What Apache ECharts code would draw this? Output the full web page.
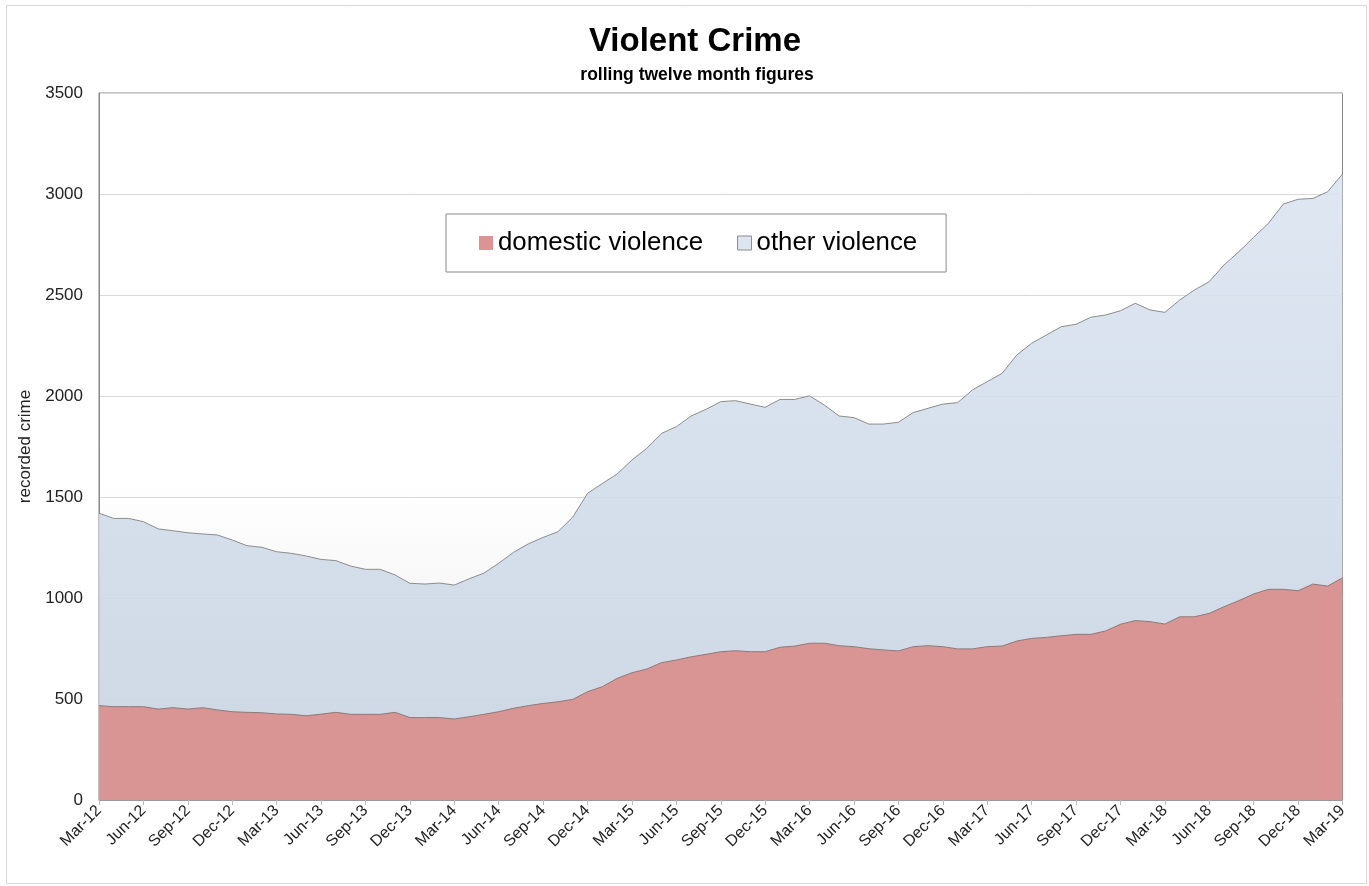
<!DOCTYPE html>
<html>
<head>
<meta charset="utf-8">
<script src="https://cdn.jsdelivr.net/npm/echarts@6/dist/echarts.min.js"></script>
<style>
html,body{margin:0;padding:0;background:#fff;}
#chart{width:1369px;height:886px;}
</style>
</head>
<body>
<div id="chart"></div>
<script>
const categories = [
'Mar-12','Apr-12','May-12','Jun-12','Jul-12','Aug-12','Sep-12','Oct-12','Nov-12','Dec-12','Jan-13','Feb-13',
'Mar-13','Apr-13','May-13','Jun-13','Jul-13','Aug-13','Sep-13','Oct-13','Nov-13','Dec-13','Jan-14','Feb-14',
'Mar-14','Apr-14','May-14','Jun-14','Jul-14','Aug-14','Sep-14','Oct-14','Nov-14','Dec-14','Jan-15','Feb-15',
'Mar-15','Apr-15','May-15','Jun-15','Jul-15','Aug-15','Sep-15','Oct-15','Nov-15','Dec-15','Jan-16','Feb-16',
'Mar-16','Apr-16','May-16','Jun-16','Jul-16','Aug-16','Sep-16','Oct-16','Nov-16','Dec-16','Jan-17','Feb-17',
'Mar-17','Apr-17','May-17','Jun-17','Jul-17','Aug-17','Sep-17','Oct-17','Nov-17','Dec-17','Jan-18','Feb-18',
'Mar-18','Apr-18','May-18','Jun-18','Jul-18','Aug-18','Sep-18','Oct-18','Nov-18','Dec-18','Jan-19','Feb-19',
'Mar-19'
];

const domesticViolence = [
467,462,462,462,450,457,450,457,446,437,434,432,
426,424,417,425,434,424,424,424,434,408,408,408,
401,412,424,437,454,467,478,486,498,536,561,602,
630,648,680,693,709,721,734,739,734,734,756,762,
776,776,764,759,749,743,738,759,764,759,748,748,
759,762,787,800,805,813,820,820,837,870,888,883,
871,907,907,924,957,987,1020,1043,1043,1036,1069,1059,
1100
];

const otherViolence = [
953,932,932,916,892,876,873,860,866,850,825,819,
803,797,791,766,751,734,718,718,680,665,661,666,
663,683,699,735,772,801,822,842,902,982,1006,1012,
1053,1093,1135,1155,1192,1213,1238,1238,1226,1210,1227,1221,
1225,1179,1137,1134,1112,1118,1132,1159,1175,1201,1219,1282,
1312,1350,1416,1461,1497,1530,1535,1570,1564,1552,1571,1543,
1543,1568,1618,1642,1692,1727,1766,1812,1907,1938,1909,1952,
1999
];

const seriesNames = ['domestic violence', 'other violence'];
const titleText = 'Violent Crime';
const subtitleText = 'rolling twelve month figures';
const yAxisName = 'recorded crime';

const chart = echarts.init(document.getElementById('chart'), null, {renderer: 'canvas'});

const font = 'Liberation Sans, Arial, sans-serif';

chart.setOption({
  animation: false,
  backgroundColor: '#fff',
  graphic: [{
    type: 'rect',
    shape: {x: 6.5, y: 5.5, width: 1360, height: 878},
    style: {fill: 'none', stroke: '#d9d9d9', lineWidth: 1},
    silent: true,
    z: -10
  }],
  title: [{
    text: titleText,
    left: 690,
    textAlign: 'center',
    top: 20,
    textStyle: {fontFamily: font, fontSize: 33, fontWeight: 'bold', color: '#000'}
  }, {
    text: subtitleText,
    left: 692,
    textAlign: 'center',
    top: 61,
    textStyle: {fontFamily: font, fontSize: 17.5, fontWeight: 'bold', color: '#000'}
  }],
  legend: {
    left: 446,
    top: 214,
    orient: 'horizontal',
    padding: [16, 29, 16, 33],
    itemGap: 34,
    itemWidth: 14,
    itemHeight: 14,
    borderColor: '#8c8c8c',
    borderWidth: 1,
    backgroundColor: '#fff',
    textStyle: {fontFamily: font, fontSize: 25.8, color: '#000'},
    data: [
      {name: seriesNames[0], icon: 'rect', itemStyle: {color: '#d99594'}},
      {name: seriesNames[1], icon: 'rect', itemStyle: {color: '#dce5f0', borderColor: '#8c8c8c', borderWidth: 1}}
    ]
  },
  grid: {
    left: 99,
    right: 26.5,
    top: 93,
    bottom: 86,
    show: true,
    borderColor: '#868686',
    borderWidth: 1,
    backgroundColor: {
      type: 'linear', x: 0, y: 0, x2: 0, y2: 1,
      colorStops: [
        {offset: 0, color: '#ffffff'},
        {offset: 0.55, color: '#ffffff'},
        {offset: 1, color: '#e9e9e9'}
      ]
    }
  },
  xAxis: {
    type: 'category',
    data: categories,
    boundaryGap: false,
    axisLine: {show: true, lineStyle: {color: '#999', width: 1}},
    axisTick: {show: true, interval: 2, length: 5, lineStyle: {color: '#bbb'}},
    axisLabel: {
      interval: 2,
      rotate: 45,
      fontFamily: font,
      fontSize: 16,
      color: '#222',
      margin: 8
    },
    splitLine: {show: false}
  },
  yAxis: {
    type: 'value',
    min: 0,
    max: 3500,
    interval: 500,
    name: yAxisName,
    nameLocation: 'middle',
    nameGap: 64,
    nameRotate: 90,
    nameTextStyle: {fontFamily: font, fontSize: 17, color: '#222'},
    axisLine: {show: true, lineStyle: {color: '#888', width: 1}},
    axisTick: {show: false},
    axisLabel: {fontFamily: font, fontSize: 17, color: '#222', margin: 16, formatter: function (v) { return String(v); }},
    splitLine: {show: true, lineStyle: {color: '#d9d9d9', width: 1}}
  },
  series: [{
    name: seriesNames[0],
    type: 'line',
    stack: 'total',
    data: domesticViolence,
    showSymbol: false,
    symbol: 'none',
    lineStyle: {color: '#8d7878', width: 1},
    itemStyle: {color: '#d99594'},
    areaStyle: {color: '#d99594', opacity: 1},
    z: 3
  }, {
    name: seriesNames[1],
    type: 'line',
    stack: 'total',
    data: otherViolence,
    showSymbol: false,
    symbol: 'none',
    lineStyle: {color: '#8c8c8c', width: 1},
    itemStyle: {color: '#dce5f0'},
    areaStyle: {
      opacity: 0.9,
      color: {
        type: 'linear', x: 0, y: 0, x2: 0, y2: 1,
        colorStops: [
          {offset: 0, color: '#dae4f0'},
          {offset: 1, color: '#cbd7e5'}
        ]
      }
    },
    z: 2
  }]
});
</script>
</body>
</html>
